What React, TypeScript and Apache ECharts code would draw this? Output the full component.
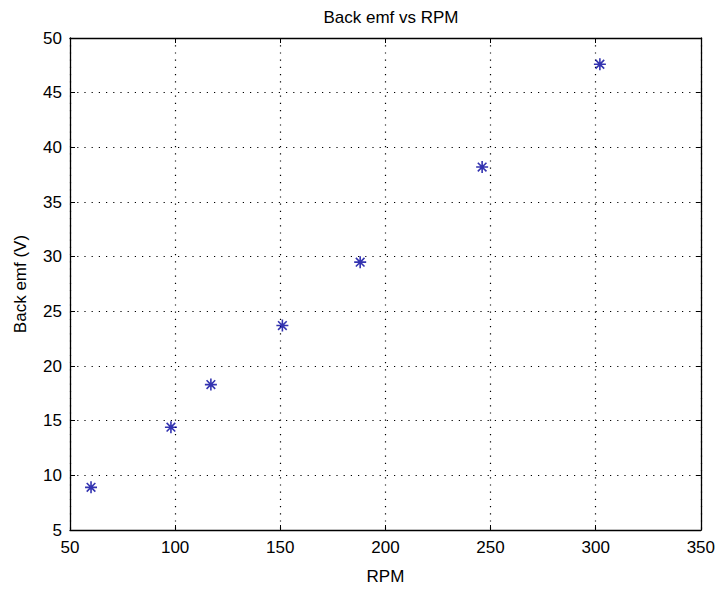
import React, { useEffect, useRef } from "react";
import * as echarts from "echarts";

const rpm = [60, 98, 117, 151, 188, 246, 302];
const backEmf = [8.9, 14.4, 18.3, 23.7, 29.5, 38.2, 47.6];

const titleText = "Back emf vs RPM";
const xName = "RPM";
const yName = "Back emf (V)";

const FONT = "Liberation Sans, Arial, sans-serif";
const ASTERISK = "path://M0,-5L0,5M-5,0L5,0M-3.6,-3.6L3.6,3.6M-3.6,3.6L3.6,-3.6";

export default function App() {
  const ref = useRef<HTMLDivElement>(null);
  useEffect(() => {
    if (!ref.current) return;
    const chart = echarts.init(ref.current, null, { renderer: "svg" });
    const tickStyle = { inside: true, length: 5, lineStyle: { color: "#000", width: 1 } };
    const axisLine = { show: true, lineStyle: { color: "#000", width: 1.3 } };
    const splitLine = { show: true, lineStyle: { color: "#000", type: [1.2, 6], width: 1.2 } };
    chart.setOption({
      animation: false,
      backgroundColor: "#fff",
      title: {
        text: titleText,
        left: 386,
        textAlign: "center",
        top: 4,
        textStyle: { fontFamily: FONT, fontSize: 17, fontWeight: "normal", color: "#000" },
      },
      grid: { left: 70, right: 16, top: 38, bottom: 53 },
      xAxis: [
        {
          type: "value",
          min: 50,
          max: 350,
          interval: 50,
          position: "bottom",
          name: xName,
          nameLocation: "middle",
          nameGap: 38,
          nameTextStyle: { fontFamily: FONT, fontSize: 17, color: "#000" },
          axisLine,
          axisTick: tickStyle,
          axisLabel: { fontFamily: FONT, fontSize: 17, color: "#000", margin: 9 },
          splitLine,
        },
        {
          type: "value",
          min: 50,
          max: 350,
          interval: 50,
          position: "top",
          axisLine,
          axisTick: tickStyle,
          axisLabel: { show: false },
          splitLine: { show: false },
        },
      ],
      yAxis: [
        {
          type: "value",
          min: 5,
          max: 50,
          interval: 5,
          position: "left",
          name: yName,
          nameLocation: "middle",
          nameGap: 41,
          nameTextStyle: { fontFamily: FONT, fontSize: 17, color: "#000" },
          axisLine,
          axisTick: tickStyle,
          axisLabel: { fontFamily: FONT, fontSize: 17, color: "#000", margin: 8 },
          splitLine,
        },
        {
          type: "value",
          min: 5,
          max: 50,
          interval: 5,
          position: "right",
          axisLine,
          axisTick: tickStyle,
          axisLabel: { show: false },
          splitLine: { show: false },
        },
      ],
      series: [
        {
          type: "scatter",
          xAxisIndex: 0,
          yAxisIndex: 0,
          data: rpm.map((x, i) => [x, backEmf[i]]),
          symbol: ASTERISK,
          symbolSize: 12,
          itemStyle: { color: "transparent", borderColor: "#00009c", borderWidth: 1.6 },
        },
      ],
    });
    return () => chart.dispose();
  }, []);
  return <div ref={ref} style={{ width: 718, height: 590, position: "absolute", left: 0, top: 0 }} />;
}
